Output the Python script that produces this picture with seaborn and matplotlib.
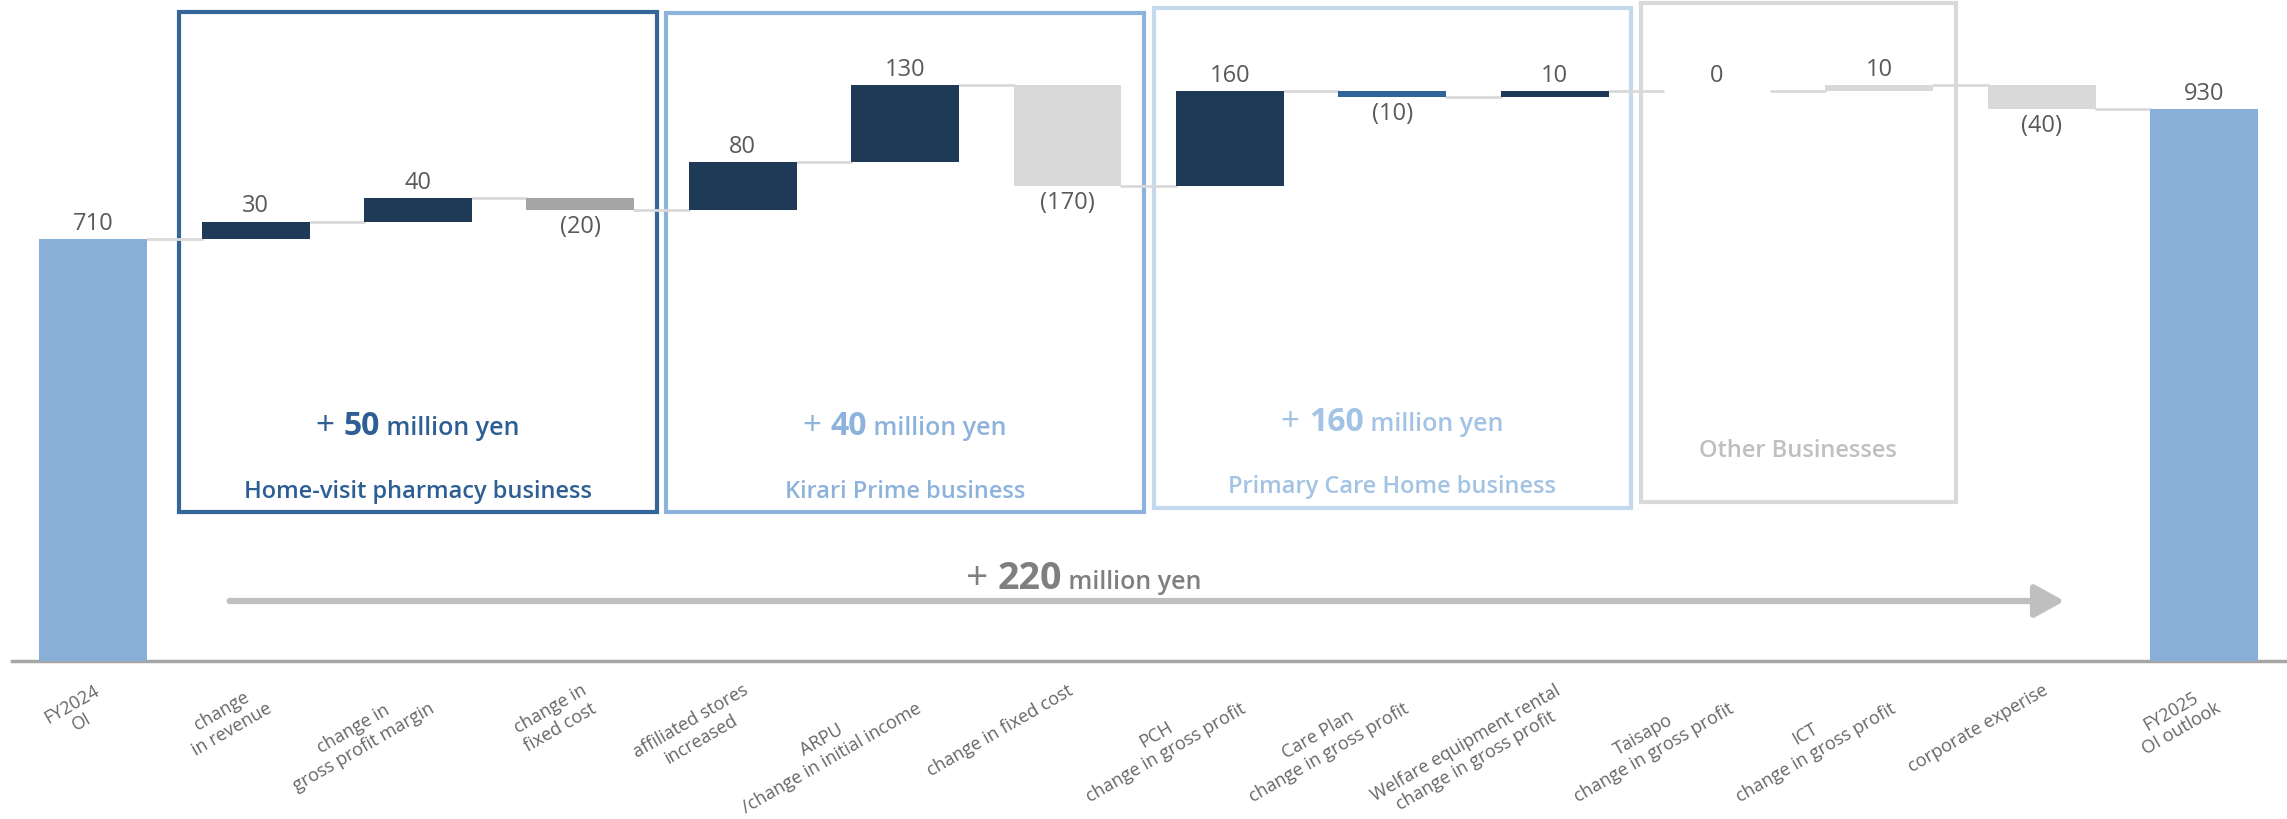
import numpy as np
import seaborn as sns
import matplotlib.pyplot as plt
from matplotlib.patches import Rectangle
from matplotlib.offsetbox import TextArea, HPacker, AnnotationBbox

# data
labels = ["FY2024\nOI", "change\nin revenue", "change in\ngross profit margin", "change in\nfixed cost",
          "affiliated stores\nincreased", "ARPU\n/change in initial income", "change in fixed cost",
          "PCH\nchange in gross profit", "Care Plan\nchange in gross profit",
          "Welfare equipment rental\nchange in gross profit", "Taisapo\nchange in gross profit",
          "ICT\nchange in gross profit", "corporate experise", "FY2025\nOI outlook"]
start_value = 710
changes = [30, 40, -20, 80, 130, -170, 160, -10, 10, 0, 10, -40]
end_value = 930
bar_colors = ["#87AFD7", "#1F3A57", "#1F3A57", "#A6A6A6", "#1F3A57", "#1F3A57", "#D9D9D9",
              "#1F3A57", "#2E6599", "#1F3A57", "#D9D9D9", "#D9D9D9", "#D9D9D9", "#87AFD7"]
group_names = ["Home-visit pharmacy business", "Kirari Prime business",
               "Primary Care Home business", "Other Businesses"]
group_bars = [(1, 3), (4, 6), (7, 9), (10, 11)]
show_total = [True, True, True, False]

# waterfall geometry
cum = start_value + np.cumsum(changes)
tops_before = np.concatenate([[start_value], cum[:-1]])
heights = [start_value] + [abs(c) for c in changes] + [end_value]
bottoms = [0] + [min(a, a + c) for a, c in zip(tops_before, changes)] + [0]
levels = [start_value] + list(cum)

sns.set_style("white")
plt.rcParams['font.family'] = ['Open Sans', 'DejaVu Sans']

fig = plt.figure(figsize=(22.87, 8.2), dpi=100)
ax = fig.add_axes([12 / 2287, 158 / 820, 2275 / 2287, 662 / 820])

bw = 0.665
sns.barplot(x=labels, y=heights, hue=labels, palette=bar_colors, legend=False,
            width=bw, ax=ax, saturation=1, zorder=3)
for p, b in zip(ax.patches, bottoms):
    p.set_y(b)
    p.set_linewidth(0)

# connectors
for i, lv in enumerate(levels):
    ax.plot([i + bw / 2, i + 1 - bw / 2], [lv, lv], color="#D9D9D9", lw=2, zorder=2)

# value labels
vals = [start_value] + changes + [end_value]
for i, v in enumerate(vals):
    if v < 0:
        ax.annotate(f"({abs(v)})", (i, bottoms[i]), xytext=(0, -3), textcoords="offset points",
                    ha="center", va="top", fontsize=17, color="#595959")
    else:
        ax.annotate(f"{v}", (i, bottoms[i] + heights[i]), xytext=(0, 3), textcoords="offset points",
                    ha="center", va="bottom", fontsize=17, color="#595959")

# group boxes
box_edge = ["#336699", "#8DB3DD", "#C5D9EE", "#D9D9D9"]
box_text = ["#2E5F94", "#8DB3DD", "#A3C3E5", "#BFBFBF"]
box_y = [(251, 1093), (251, 1091), (258, 1100), (268, 1109)]
for k, (a, b) in enumerate(group_bars):
    y0, y1 = box_y[k]
    ax.add_patch(Rectangle((a - 0.47, y0), (b - a) + 0.94, y1 - y0, fill=False,
                           edgecolor=box_edge[k], lw=3, clip_on=False, zorder=1))
    xc = (a + b) / 2
    if show_total[k]:
        tot = sum(changes[a - 1:b])
        ax.text(xc, y0 + 36, group_names[k], ha="center", va="center", fontsize=17,
                fontweight="semibold", color=box_text[k])
        pk = HPacker(children=[
            TextArea("+ ", textprops=dict(fontsize=24, color=box_text[k])),
            TextArea(f"{tot}", textprops=dict(fontsize=23, fontweight="bold", color=box_text[k])),
            TextArea(" million yen", textprops=dict(fontsize=18, fontweight="semibold", color=box_text[k])),
        ], align="baseline", pad=0, sep=0)
        ax.add_artist(AnnotationBbox(pk, (xc, y0 + 145), frameon=False, box_alignment=(0.5, 0.5)))
    else:
        ax.text(xc, y0 + 88, group_names[k], ha="center", va="center", fontsize=17,
                fontweight="semibold", color=box_text[k])

# overall arrow
ax.annotate("", xy=(12.14, 101), xytext=(0.84, 101),
            arrowprops=dict(arrowstyle="-|>,head_length=0.4,head_width=0.22", lw=4.5,
                            color="#BFBFBF", shrinkA=0, shrinkB=0, mutation_scale=45))
pk = HPacker(children=[
    TextArea("+ ", textprops=dict(fontsize=28, color="#7F7F7F")),
    TextArea(f"{end_value - start_value}", textprops=dict(fontsize=27, fontweight="bold", color="#7F7F7F")),
    TextArea(" million yen", textprops=dict(fontsize=18, fontweight="semibold", color="#7F7F7F")),
], align="baseline", pad=0, sep=0)
ax.add_artist(AnnotationBbox(pk, (6.1, 140), frameon=False, box_alignment=(0.5, 0.5)))

ax.set_xlim(-0.5, 13.51)
ax.set_ylim(0, 1115)
ax.set_yticks([])
ax.set_xticks(range(len(labels)))
ax.set_xticklabels(labels, rotation=30, ha="right", va="top", rotation_mode="anchor",
                   multialignment="center", color="#666666", fontsize=13, linespacing=1.2)
ax.tick_params(axis="x", length=0, pad=14)
ax.set_xlabel("")
for s in ["top", "right", "left"]:
    ax.spines[s].set_visible(False)
ax.spines["bottom"].set_color("#A6A6A6")
ax.spines["bottom"].set_linewidth(2.5)
ax.patch.set_alpha(0)

fig.savefig("out.png", dpi=100)
